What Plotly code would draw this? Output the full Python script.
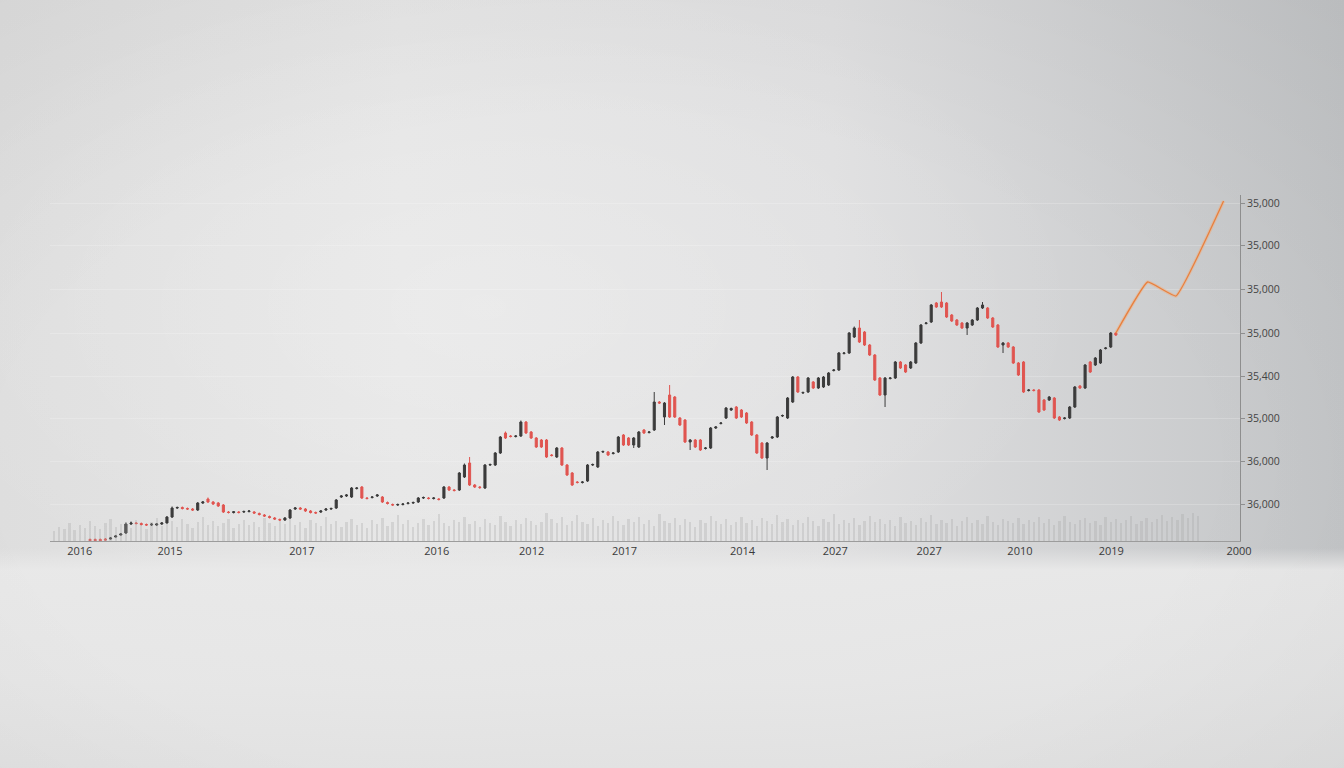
import base64
import plotly.graph_objects as go

# ---------------- data ----------------
opens = [1.5, 1.5, 1.5, 2, 2, 4, 6, 8, 17, 18, 17.5, 16.5, 16, 16, 17, 18, 24, 33, 33.5, 32.5,
         32, 31, 38, 42, 39, 38, 36, 29, 28.5, 29, 29, 29.5, 29, 27.5, 26, 24.5, 23, 21.5, 21, 23,
         32, 33, 32, 30, 28.5, 29, 31, 32, 33, 44, 45, 44, 52.5, 54, 43, 43.5, 45, 44, 38.5, 36.5,
         36, 36.5, 37.5, 38, 39, 43, 43, 42.5, 42, 43, 54, 51, 51, 64, 78, 56, 54, 53, 76, 76,
         88, 108, 105, 104.5, 105, 119, 109, 103, 101, 101, 86, 84, 93, 76, 68, 59, 58.5, 60, 76, 74,
         89, 89, 87.5, 89, 106, 103, 96, 94, 111, 108.5, 111, 139, 124, 146, 144, 123, 121, 99, 101, 101,
         92.5, 93, 113, 117.5, 123, 131, 134, 131, 128, 119, 106, 98, 83, 103, 104, 125, 123, 139, 164, 148,
         149, 159, 153, 154, 156, 170.5, 171, 187.5, 188, 204, 213, 209, 196, 186, 163, 146, 162.5, 163, 179, 176,
         173, 178, 198, 217.5, 219, 238, 239, 238, 226, 221, 218, 213, 216, 221, 233, 233, 223, 216, 196, 198,
         194, 178, 179, 150.5, 151, 151, 141, 141, 143, 124, 122.5, 123, 134, 155, 153, 179, 176, 178, 192.5, 194,
         208]
closes = [0.5, 0.5, 0.5, 1, 3, 5, 7, 17, 18, 17.5, 16.5, 16, 16.8, 17, 18, 24, 33, 33.5, 32.5, 32,
          31, 38, 39, 39, 37, 35, 29, 28.5, 29.2, 28.5, 29.5, 30, 28, 26.5, 25, 23.5, 22, 21, 23, 31,
          33, 32, 30, 28.5, 28, 30, 32, 32.5, 41, 45, 46, 53, 53, 43, 42.5, 44, 46, 39, 37.5, 36,
          36.5, 37, 38, 38.5, 43, 43.5, 42.5, 43, 41.5, 54, 51, 50.5, 68, 76, 56, 54, 53.5, 76, 76.5, 88,
          104, 103, 104.5, 105, 119, 108, 103, 94, 94, 84, 85.5, 93, 76, 66, 56, 58.5, 59, 76, 76.5, 89,
          89.5, 86, 88, 104, 96, 96, 103, 109, 108, 109, 139, 138, 138, 124, 124, 116, 99, 101, 94, 91,
          93, 113, 114, 118, 133, 132.5, 123, 124, 118, 106, 88, 83, 98, 104, 124, 125.5, 143, 164, 149, 148.5,
          163, 153, 163, 164, 168, 171, 188, 188, 208, 213, 199, 196, 186, 161, 146, 163, 163, 179, 173, 169,
          179, 198, 216, 218, 236, 234, 234, 224, 220, 216, 213, 218, 221, 233, 236, 223, 214, 194, 198, 194,
          178, 166, 149, 151, 150.5, 129, 131, 144, 123, 121, 123, 134, 154, 153, 176, 169, 183, 191, 193, 208,
          206]
highs = [2.5, 2.5, 2.5, 3, 4, 6, 8, 18.5, 19.5, 19, 18.5, 17.5, 18, 18, 19, 25, 34.5, 34.5, 34.5, 33.5,
         33, 39, 40, 43.5, 40, 39, 37, 30, 30, 30, 30.5, 31, 30, 28.5, 27, 25.5, 24, 22.5, 24, 32,
         34, 34, 33, 31, 29.5, 31, 33, 33.5, 42, 46, 47, 54, 54, 55, 44, 45, 47, 45, 39.5, 37.5,
         37.5, 38, 39, 39.5, 44, 44.5, 44, 44, 43, 55, 55, 52, 69, 77.5, 84, 57, 55, 77, 77.5, 89,
         105, 109.5, 106, 106, 120.5, 120, 110, 104, 102, 102, 87, 94, 94, 77, 69, 60, 60, 77, 77.5, 90,
         90.5, 90, 89, 105, 107, 104, 104, 110, 112, 110, 149, 140, 139, 156, 145, 124, 122, 102, 102, 102,
         94, 114, 115, 119, 134, 133.5, 135, 132, 129, 120, 107, 99, 99, 105, 125, 126.5, 144, 165, 165, 149.5,
         164, 160, 164, 165, 169, 172, 189, 189, 209, 214.5, 221, 210, 197, 187, 164, 164, 164, 180, 180, 177,
         180, 199, 217, 219, 237, 239, 249, 239, 227, 222, 219, 219, 222, 234, 239, 234, 224, 217, 199, 199,
         195, 179, 180, 152, 152, 152, 142, 145, 144, 125, 124, 135, 155, 156, 177, 180, 184, 192, 194, 209,
         209]
lows = [0, 0, 0, 0.5, 1.5, 3.5, 5.5, 7, 16, 16.5, 15.5, 15, 15, 15, 16, 17, 23, 32, 31.5, 31,
        30, 30, 37, 38, 36, 34, 28, 27.5, 27.5, 27.5, 28, 28.5, 27, 25.5, 24, 22.5, 21, 20, 20, 22,
        31, 31, 29, 27.5, 27, 28, 30, 31, 32, 43, 44, 43, 51.5, 42, 41.5, 42.5, 44, 38, 36.5, 35,
        35, 35.5, 36.5, 37, 38, 42, 41.5, 41.5, 40.5, 42, 50, 49.5, 50, 63, 55, 53, 52, 52, 75, 75,
        87, 102, 103.5, 103.5, 104, 107, 102, 93, 93, 83, 84.5, 83, 75, 65, 55, 57.5, 57.5, 59, 75, 73,
        88, 85, 86.5, 88, 95, 95, 93, 93, 107, 107.5, 110, 137, 116, 123, 123, 115, 98, 91, 93, 90,
        91.5, 92, 112, 116.5, 122, 130, 122, 123, 117, 105, 87, 82, 71, 102, 103, 124, 122, 138, 148, 147,
        148, 152, 152, 153, 155, 169.5, 170, 186.5, 187, 203, 198, 195, 185, 160, 145, 134, 161.5, 162, 172, 168,
        172, 177, 197, 216.5, 218, 233, 233, 223, 219, 215, 212, 206, 215, 220, 232, 222, 213, 193, 188, 193,
        177, 165, 148, 149.5, 149.5, 128, 130, 140, 122, 120, 121.5, 122, 133, 152, 152, 168, 175, 177, 191.5, 193,
        205]
periods = list(range(len(closes)))

volume_periods = list(range(-7, 217))
volumes = [10, 14, 12, 18, 11, 16, 13, 20, 15, 12, 18, 22, 14, 17, 19, 13,
           21, 16, 12, 19, 23, 15, 18, 20, 14, 22, 17, 13, 19, 24, 16, 20,
           15, 18, 22, 13, 17, 21, 16, 19, 14, 23, 18, 15, 20, 17, 22, 16,
           19, 13, 21, 18, 15, 24, 17, 20, 14, 19, 22, 16, 18, 13, 21, 17,
           23, 15, 19, 26, 17, 21, 14, 18, 22, 16, 20, 27, 18, 15, 21, 19,
           24, 17, 20, 14, 22, 18, 16, 25, 19, 15, 21, 17, 23, 20, 16, 19,
           28, 22, 18, 24, 16, 20, 26, 19, 17, 23, 15, 21, 18, 25, 20, 16,
           22, 19, 24, 17, 21, 15, 27, 20, 18, 23, 16, 22, 19, 14, 21, 18,
           25, 20, 17, 22, 16, 19, 24, 18, 21, 15, 23, 20, 17, 26, 19, 22,
           16, 21, 18, 24, 20, 15, 22, 19, 27, 17, 21, 18, 23, 16, 20, 25,
           19, 22, 17, 21, 15, 24, 18, 20, 16, 23, 19, 26, 17, 21, 18, 22,
           15, 20, 24, 18, 21, 17, 25, 19, 16, 22, 20, 18, 23, 17, 21, 19,
           24, 18, 22, 16, 20, 25, 19, 17, 21, 23, 18, 20, 16, 24, 19, 22,
           18, 21, 25, 17, 20, 23, 19, 22, 26, 20, 24, 21, 27, 23, 28, 25]

forecast_periods = [200, 206.2, 211.7, 221]
forecast_values = [208, 259, 245, 340]

x_tick_pos = [-2, 15.6, 41.3, 67.6, 86.1, 104.2, 127.2, 145.3, 163.6, 181.3, 199.1, 224]
x_tick_labels = ["2016", "2015", "2017", "2016", "2012", "2017", "2014", "2027", "2027", "2010", "2019", "2000"]
y_tick_pos = [37, 80, 123, 165, 208, 252, 296, 338]
y_tick_labels = ["36,000", "36,000", "35,000", "35,400", "35,000", "35,000", "35,000", "35,000"]

# ---------------- background (decorative gradient) ----------------
svg = """<svg xmlns='http://www.w3.org/2000/svg' width='1344' height='768' viewBox='0 0 1344 768' preserveAspectRatio='none'>
<defs>
<linearGradient id='h' x1='0' y1='0' x2='1' y2='0'>
<stop offset='0' stop-color='#dedede'/><stop offset='0.3' stop-color='#e5e5e5'/>
<stop offset='0.62' stop-color='#dfdfe0'/><stop offset='1' stop-color='#c3c5c7'/>
</linearGradient>
<radialGradient id='r' cx='0.36' cy='0.4' r='0.45'>
<stop offset='0' stop-color='#ffffff' stop-opacity='0.25'/><stop offset='1' stop-color='#ffffff' stop-opacity='0'/>
</radialGradient>
<linearGradient id='f' x1='0' y1='0' x2='0' y2='1'>
<stop offset='0' stop-color='#e8e8e8' stop-opacity='0'/><stop offset='0.1' stop-color='#e9e9e9' stop-opacity='0.95'/>
<stop offset='0.6' stop-color='#e7e7e7' stop-opacity='0.9'/><stop offset='1' stop-color='#e2e2e2' stop-opacity='0.9'/>
</linearGradient>
<radialGradient id='v' cx='0.45' cy='0.6' r='0.8'>
<stop offset='0.55' stop-color='#000' stop-opacity='0'/><stop offset='1' stop-color='#000' stop-opacity='0.045'/>
</radialGradient>
</defs>
<rect width='1344' height='768' fill='url(#h)'/>
<rect width='1344' height='768' fill='url(#r)'/>
<rect y='548' width='1344' height='220' fill='url(#f)'/>
<rect width='1344' height='768' fill='url(#v)'/>
</svg>"""
bg_uri = "data:image/svg+xml;base64," + base64.b64encode(svg.encode()).decode()

L, R, T, B = 50, 104, 195, 227
W, H = 1344, 768
pw, ph = W - L - R, H - T - B

fig = go.Figure()

fig.add_trace(go.Bar(
    x=volume_periods, y=volumes, yaxis="y2",
    marker=dict(color="rgba(165,165,165,0.30)", line=dict(width=0)),
    width=0.45, hoverinfo="skip", showlegend=False,
))

fig.add_trace(go.Candlestick(
    x=periods, open=opens, high=highs, low=lows, close=closes,
    increasing=dict(fillcolor="#3b3b3b", line=dict(color="#3b3b3b", width=1)),
    decreasing=dict(fillcolor="#e05550", line=dict(color="#e05550", width=1)),
    whiskerwidth=0, showlegend=False,
))

fig.add_trace(go.Scatter(
    x=forecast_periods, y=forecast_values, mode="lines",
    line=dict(color="rgba(245,170,120,0.45)", width=3.5, shape="spline", smoothing=0.3),
    hoverinfo="skip", showlegend=False,
))
fig.add_trace(go.Scatter(
    x=forecast_periods, y=forecast_values, mode="lines",
    line=dict(color="#e8803e", width=1.3, shape="spline", smoothing=0.3),
    showlegend=False,
))

fig.update_layout(
    width=W, height=H,
    margin=dict(l=L, r=R, t=T, b=B),
    paper_bgcolor="#e0e0e0",
    plot_bgcolor="rgba(0,0,0,0)",
    boxgap=0.42,
    bargap=0,
    font=dict(family="Open Sans, Liberation Sans, sans-serif", size=11, color="#3a3a3a"),
    images=[dict(
        source=bg_uri, xref="paper", yref="paper",
        x=-L / pw, y=1 + T / ph, sizex=W / pw, sizey=H / ph,
        xanchor="left", yanchor="top", sizing="stretch", layer="below",
    )],
    xaxis=dict(
        range=[-7.8, 224.2], rangeslider=dict(visible=False),
        tickvals=x_tick_pos, ticktext=x_tick_labels, tickangle=0,
        showgrid=False, zeroline=False, showline=True, linecolor="#9c9c9c", linewidth=1,
        ticks="", tickfont=dict(size=11, color="#3a3a3a"),
    ),
    yaxis=dict(
        range=[0, 346], side="right",
        tickvals=y_tick_pos, ticktext=y_tick_labels,
        showgrid=True, gridcolor="rgba(255,255,255,0.2)", gridwidth=1,
        zeroline=False, showline=True, linecolor="#8e8e8e", linewidth=1,
        ticks="outside", ticklen=4, tickcolor="#8e8e8e",
        tickfont=dict(size=10.5, color="#444444"),
    ),
    yaxis2=dict(range=[0, 346], overlaying="y", visible=False),
    hovermode=False,
)

fig.write_html(
    "out.html",
    config={"displayModeBar": False},
    post_script="document.body.style.margin='0';document.body.style.overflow='hidden';",
)
